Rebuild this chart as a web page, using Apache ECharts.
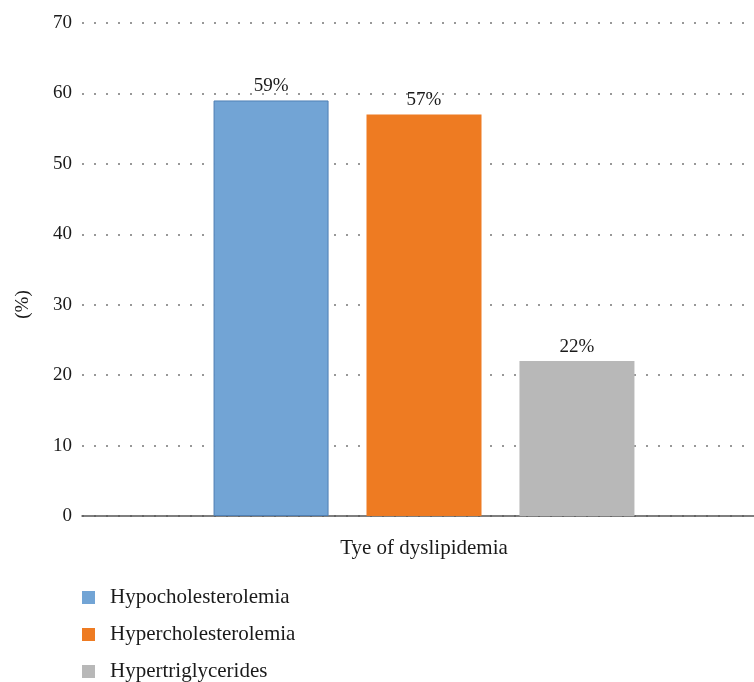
<!DOCTYPE html>
<html>
<head>
<meta charset="utf-8">
<script src="https://cdn.jsdelivr.net/npm/echarts@6/dist/echarts.min.js"></script>
<style>
    html, body { margin: 0; padding: 0; background: #fff; }
    #chart { width: 754px; height: 682px; }
</style>
</head>
<body>
<div id="chart"></div>
<script>
    // data
    const categories = ['Tye of dyslipidemia']
    const seriesNames = ['Hypocholesterolemia', 'Hypercholesterolemia', 'Hypertriglycerides']
    const seriesValues = [59, 57, 22]
    const seriesColors = ['#72a4d5', '#ee7b22', '#b8b8b8']

    const font = 'Liberation Serif'
    let chart = echarts.init(document.getElementById('chart'))

    let series = seriesNames.map((name, i) => {
        return {
            name: name,
            type: 'bar',
            data: [seriesValues[i]],
            barWidth: 115,
            barGap: '33%',
            itemStyle: {
                color: seriesColors[i],
                borderColor: i === 0 ? '#4f7fb4' : seriesColors[i],
                borderWidth: i === 0 ? 1 : 0
            },
            label: {
                show: true,
                position: 'top',
                distance: 5,
                formatter: (p) => p.value + '%',
                fontFamily: font,
                fontSize: 19,
                color: '#1a1a1a'
            }
        }
    })

    let options = {
        animation: false,
        textStyle: { fontFamily: font },
        grid: {
            left: 82,
            width: 684,
            top: 23,
            bottom: 166,
            outerBoundsMode: 'none'
        },
        legend: {
            orient: 'vertical',
            left: 77,
            top: 582,
            height: 110,
            itemWidth: 13,
            itemHeight: 13,
            itemGap: 16,
            icon: 'rect',
            itemStyle: { borderWidth: 0 },
            textStyle: { fontFamily: font, fontSize: 21, color: '#1a1a1a', padding: [0, 0, 0, 10] },
            data: seriesNames
        },
        xAxis: {
            type: 'category',
            data: categories,
            name: categories[0],
            nameLocation: 'middle',
            nameGap: 22,
            nameTextStyle: { fontFamily: font, fontSize: 21, color: '#1a1a1a' },
            axisTick: { show: false },
            axisLabel: { show: false },
            axisLine: { lineStyle: { color: '#555', width: 1.5 } }
        },
        yAxis: {
            type: 'value',
            min: 0,
            max: 70,
            interval: 10,
            name: '(%)',
            nameLocation: 'middle',
            nameRotate: 90,
            nameGap: 49,
            nameTextStyle: { fontFamily: font, fontSize: 19, color: '#1a1a1a', padding: [0, 70, 0, 0] },
            axisLine: { show: false },
            axisTick: { show: false },
            axisLabel: { fontFamily: font, fontSize: 19, color: '#1a1a1a', margin: 10 },
            splitLine: {
                show: true,
                lineStyle: { color: '#777', width: 1.5, type: [2, 10] }
            }
        },
        series: series
    }
    chart.setOption(options)
</script>
</body>
</html>
